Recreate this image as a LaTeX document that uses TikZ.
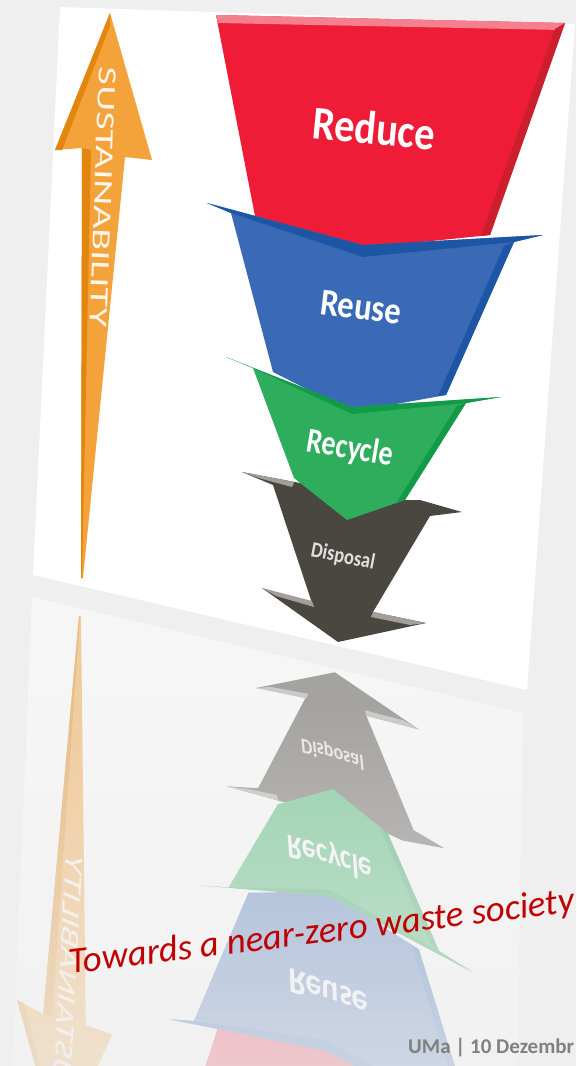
\documentclass[tikz,border=0pt]{standalone}
\usepackage{fontspec}
\setmainfont{Carlito}
\usepackage{graphicx}
\usetikzlibrary{fadings}
\definecolor{wstBg}{HTML}{EFEFEF}
\definecolor{wstRed}{HTML}{EE1C36}
\definecolor{wstRedDk}{HTML}{CC1F2E}
\definecolor{wstRedHi}{HTML}{F4808E}
\definecolor{wstBlue}{HTML}{3A69B5}
\definecolor{wstBlueDk}{HTML}{1E56A6}
\definecolor{wstGreen}{HTML}{2EAD5D}
\definecolor{wstGreenDk}{HTML}{119A47}
\definecolor{wstGrey}{HTML}{4A4741}
\definecolor{wstGreyHi}{HTML}{A29E99}
\definecolor{wstOrange}{HTML}{F4A33B}
\definecolor{wstOrangeDk}{HTML}{E2860F}
\definecolor{wstTitle}{HTML}{C00000}
\definecolor{wstFoot}{HTML}{808080}
\tikzset{
  wstlbl/.style={inner sep=0pt,transform shape,text=white,font=\bfseries},
  wstmirror/.style={transparency group,opacity=0.45,
    cm={0.974,-0.45,-0.0857,-0.925,(-49.4pt,-1114pt)}},
}
\newcommand{\wastecard}[1]{%
  \fill[white] (60,7) -- (575,24) -- (527,690) -- (33,575) -- cycle;
  % sustainability arrow
  \fill[wstOrange] (110,13) -- (152,160) -- (125,157) -- (83,578) -- (81,578)
    -- (82,148) -- (55,150) -- cycle;
  \fill[wstOrangeDk] (82,148) -- (91,150) -- (82,578) -- (81,578) -- cycle;
  \fill[wstOrangeDk] (110,13) -- (55,150) -- (62,150) -- (110,26) -- cycle;
  \node[wstlbl,font=\mdseries,text=white!92!orange,rotate=-92] (sust#1) at (103,197)
    {\resizebox{260pt}{17pt}{SUSTAINABILITY}};
  % reduce
  \fill[wstRed] (216,15) -- (565,23) -- (490,235) -- (363,248) -- (255,216) -- cycle;
  \fill[wstRedHi] (216,15) -- (565,23) -- (562,30) -- (218,23) -- cycle;
  \fill[wstRedDk] (565,23) -- (490,235) -- (481,236) -- (555,29) -- cycle;
  \node[wstlbl,font=\fontsize{47}{47}\selectfont\bfseries,rotate=-5.5,xscale=0.86]
    (reduce#1) at (374,128) {Reduce};
  % reuse
  \fill[wstBlue] (207,203) -- (363,245) -- (543,235) -- (514,242) -- (446,395)
    -- (352,412) -- (273,372) -- (231,213) -- cycle;
  \fill[wstBlueDk] (207,203) -- (363,245) -- (543,235) -- (514,242) -- (363,257)
    -- (231,213) -- cycle;
  \fill[wstBlueDk] (514,242) -- (446,395) -- (438,396) -- (504,246) -- cycle;
  \node[wstlbl,font=\fontsize{38}{38}\selectfont\bfseries,rotate=-7,xscale=0.86]
    (reuse#1) at (361,307) {Reuse};
  % disposal
  \fill[wstGrey] (242,472) -- (300,483) -- (347,500) -- (420,500) -- (462,512)
    -- (430,516) -- (373,612) -- (426,623) -- (338,642) -- (262,588) -- (312,603)
    -- (273,485) -- cycle;
  \fill[wstGreyHi] (262,588) -- (312,601) -- (314,607) -- (276,596) -- cycle;
  \fill[wstGreyHi] (373,612) -- (426,623) -- (410,625) -- (371,617) -- cycle;
  \fill[wstGreyHi] (242,472) -- (294,482) -- (292,487) -- (262,479) -- cycle;
  \node[wstlbl,font=\fontsize{22}{22}\selectfont\bfseries,text=white!88!black,
    rotate=-11,xscale=0.84] (disposal#1) at (343,557) {Disposal};
  % recycle
  \fill[wstGreen] (226,357) -- (352,407) -- (501,397) -- (466,403) -- (405,500)
    -- (347,520) -- (294,478) -- (253,368) -- cycle;
  \fill[wstGreenDk] (226,357) -- (352,407) -- (501,397) -- (466,403) -- (352,414)
    -- (253,368) -- cycle;
  \fill[wstGreenDk] (466,403) -- (405,500) -- (397,502) -- (457,406) -- cycle;
  \node[wstlbl,font=\fontsize{35}{35}\selectfont\bfseries,rotate=-9.5,xscale=0.8]
    (recycle#1) at (350,449) {Recycle};
}

\begin{document}
\begin{tikzpicture}[x=1pt,y=-1pt]
  \useasboundingbox (0,0) rectangle (576,1066);
  \clip (0,0) rectangle (576,1066);
  \fill[wstBg] (0,0) rectangle (576,1066);

  % mirrored copy, fading out downwards
  \begin{scope}[wstmirror]
    \wastecard{m}
  \end{scope}
  \fill[wstBg,path fading=north,fill opacity=0.6] (0,700) rectangle (576,1066);
  \wastecard{}

  \node[anchor=base west,rotate=7,inner sep=0pt,text=wstTitle,font=\itshape]
    (motto) at (70,974) {\resizebox{509pt}{!}{Towards a near-zero waste society}};
  \node[anchor=base west,inner sep=0pt,text=wstFoot,
    font=\fontsize{21}{21}\selectfont\bfseries] (foot) at (408,1053) {UMa | 10 Dezembr};
\end{tikzpicture}
\end{document}
